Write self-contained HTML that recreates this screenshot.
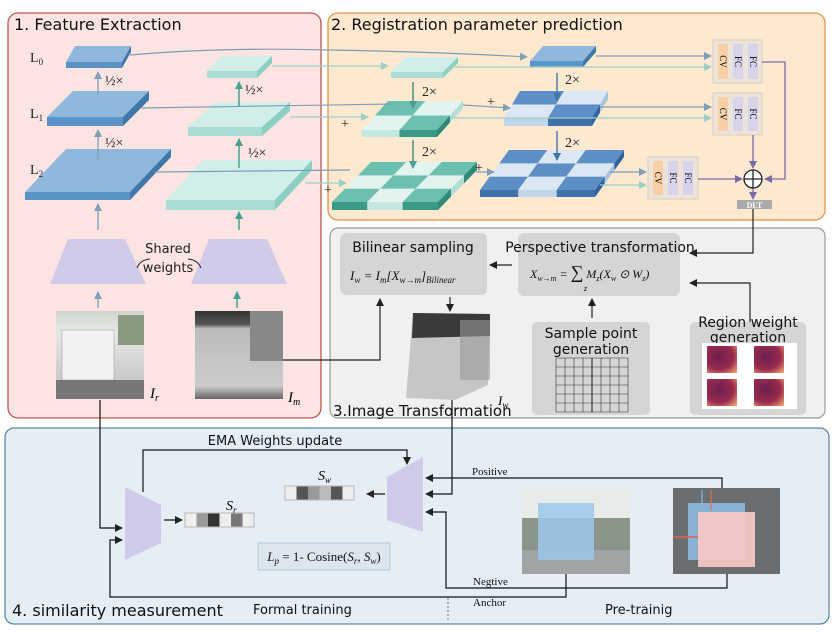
<!DOCTYPE html>
<html><head><meta charset="utf-8"><style>
html,body{margin:0;padding:0;background:#fff;}
svg{display:block;font-family:"Liberation Sans",sans-serif;}
.t{font-family:"DejaVu Sans","Liberation Sans",sans-serif;}
.s{font-family:"Liberation Serif",serif;}
</style></head><body>
<svg id="sv" width="839" height="632" viewBox="0 0 839 632" xmlns="http://www.w3.org/2000/svg">
<defs>
<marker id="ab" markerWidth="8" markerHeight="8" refX="7" refY="4" orient="auto" markerUnits="userSpaceOnUse"><path d="M0,0 L8,4 L0,8 z" fill="#222"/></marker>
<marker id="ag" markerWidth="8" markerHeight="8" refX="7" refY="4" orient="auto" markerUnits="userSpaceOnUse"><path d="M0,0 L8,4 L0,8 z" fill="#7f9fb8"/></marker>
<marker id="at" markerWidth="8" markerHeight="8" refX="7" refY="4" orient="auto" markerUnits="userSpaceOnUse"><path d="M0,0 L8,4 L0,8 z" fill="#4aa090"/></marker>
<marker id="ac" markerWidth="8" markerHeight="8" refX="7" refY="4" orient="auto" markerUnits="userSpaceOnUse"><path d="M0,0 L8,4 L0,8 z" fill="#9cd0c6"/></marker>
<marker id="ap" markerWidth="8" markerHeight="8" refX="7" refY="4" orient="auto" markerUnits="userSpaceOnUse"><path d="M0,0 L8,4 L0,8 z" fill="#7a6aa8"/></marker>
<marker id="aB" markerWidth="8" markerHeight="8" refX="7" refY="4" orient="auto" markerUnits="userSpaceOnUse"><path d="M0,0 L8,4 L0,8 z" fill="#3f78a8"/></marker>
<linearGradient id="gIr" x1="0" y1="0" x2="0" y2="1"><stop offset="0" stop-color="#cfd6cc"/><stop offset="0.25" stop-color="#e8e8e6"/><stop offset="0.8" stop-color="#c8c8c8"/><stop offset="1" stop-color="#7a7a7a"/></linearGradient>
<linearGradient id="gIm" x1="0" y1="0" x2="0" y2="1"><stop offset="0" stop-color="#333"/><stop offset="0.15" stop-color="#555"/><stop offset="0.2" stop-color="#bbb"/><stop offset="0.85" stop-color="#ccc"/><stop offset="1" stop-color="#666"/></linearGradient>
<radialGradient id="hm" cx="0.4" cy="0.4" r="0.8"><stop offset="0" stop-color="#6a1f4e"/><stop offset="0.6" stop-color="#9a2a4e"/><stop offset="1" stop-color="#f0a070"/></radialGradient>
</defs>

<rect x="8" y="13" width="313" height="405" rx="10" fill="#fce4e2" stroke="#c05550" stroke-width="1.3"/>
<rect x="328" y="13" width="497" height="207" rx="10" fill="#fde8d0" stroke="#e0944a" stroke-width="1.3"/>
<rect x="330" y="228" width="495" height="190" rx="8" fill="#f0f0f0" stroke="#999" stroke-width="1.2"/>
<rect x="5" y="428" width="824" height="196" rx="9" fill="#e5eef5" stroke="#5a8aa0" stroke-width="1.3"/>

<text x="14" y="30" font-size="16" class="t" fill="#111">1. Feature Extraction</text>
<text x="331" y="30" font-size="16" class="t" fill="#111">2. Registration parameter prediction</text>
<text x="333" y="416" font-size="15" class="t" fill="#111">3.Image Transformation</text>
<text x="12" y="616" font-size="16" class="t" fill="#111">4. similarity measurement</text>
<text x="253" y="614" font-size="13" class="t" fill="#111">Formal training</text>
<text x="605" y="614" font-size="13" class="t" fill="#111">Pre-trainig</text>
<line x1="448" y1="598" x2="448" y2="620" stroke="#777" stroke-dasharray="2,2"/>

<g id="slabs"></g>

<g class="s" font-size="14" fill="#222">
<text x="30" y="62">L<tspan font-size="9" dy="3">0</tspan></text>
<text x="30" y="118">L<tspan font-size="9" dy="3">1</tspan></text>
<text x="30" y="174">L<tspan font-size="9" dy="3">2</tspan></text>
<text x="105" y="85">½×</text><text x="105" y="147">½×</text>
<text x="245" y="94">½×</text><text x="248" y="157">½×</text>
</g>
<g stroke="#7f9fb8" stroke-width="1.3" fill="none">
<line x1="98" y1="95" x2="98" y2="72" marker-end="url(#ag)"/>
<line x1="98" y1="159" x2="98" y2="130" marker-end="url(#ag)"/>
<line x1="98" y1="230" x2="98" y2="204" marker-end="url(#ag)"/>
<line x1="98" y1="308" x2="98" y2="292" marker-end="url(#ag)"/>
</g>
<g stroke="#4aa090" stroke-width="1.5" fill="none">
<line x1="239" y1="106" x2="239" y2="82" marker-end="url(#at)"/>
<line x1="239" y1="168" x2="239" y2="139" marker-end="url(#at)"/>
<line x1="239" y1="230" x2="239" y2="212" marker-end="url(#at)"/>
<line x1="237" y1="308" x2="237" y2="292" marker-end="url(#at)"/>
</g>
<polygon points="50,284 146,284 125,239 68,239" fill="#d0cbe9"/>
<polygon points="191,284 287,284 267,239 209,239" fill="#d0cbe9"/>
<text x="168" y="253" font-size="13" text-anchor="middle" class="t" fill="#222">Shared</text>
<text x="168" y="272" font-size="13" text-anchor="middle" class="t" fill="#222">weights</text>
<path d="M137,268 Q140,260 150,259 M188,259 Q198,260 201,268" stroke="#222" fill="none"/>
<rect x="56" y="311" width="88" height="88" fill="url(#gIr)"/>
<rect x="62" y="330" width="52" height="50" fill="#f2f2f2" stroke="#999" stroke-width="0.5"/>
<rect x="56" y="380" width="88" height="19" fill="#777"/>
<rect x="118" y="315" width="26" height="30" fill="#8a9a80"/>
<rect x="195" y="311" width="88" height="88" fill="url(#gIm)"/>
<rect x="250" y="311" width="33" height="50" fill="#888"/>
<text x="150" y="398" font-size="15" class="s" font-style="italic">I<tspan font-size="10" dy="3">r</tspan></text>
<text x="288" y="402" font-size="15" class="s" font-style="italic">I<tspan font-size="10" dy="3">m</tspan></text>

<g fill="none" stroke-width="1.2">
<path d="M130,55 Q220,47 330,50 Q440,52 527,57" stroke="#7f9fb8" marker-end="url(#ag)"/>
<line x1="272" y1="66" x2="388" y2="66" stroke="#9cd0c6" marker-end="url(#ac)"/>
<line x1="140" y1="108" x2="395" y2="104" stroke="#7f9fb8"/>
<line x1="290" y1="117" x2="368" y2="117" stroke="#9cd0c6" marker-end="url(#ac)"/>
<line x1="155" y1="172" x2="350" y2="170" stroke="#7f9fb8"/>
<line x1="305" y1="183" x2="346" y2="183" stroke="#9cd0c6" marker-end="url(#ac)"/>
<line x1="463" y1="105" x2="510" y2="108" stroke="#7f9fb8" marker-end="url(#ag)"/>
<line x1="476" y1="172" x2="494" y2="172" stroke="#7f9fb8" marker-end="url(#ag)"/>
<line x1="596" y1="56" x2="711" y2="56" stroke="#7f9fb8" marker-end="url(#ag)"/>
<line x1="455" y1="67" x2="711" y2="67" stroke="#9cd0c6" marker-end="url(#ac)"/>
<line x1="600" y1="107" x2="711" y2="107" stroke="#7f9fb8" marker-end="url(#ag)"/>
<line x1="450" y1="118" x2="711" y2="118" stroke="#9cd0c6" marker-end="url(#ac)"/>
<line x1="610" y1="172" x2="646" y2="172" stroke="#7f9fb8" marker-end="url(#ag)"/>
<line x1="600" y1="185" x2="646" y2="185" stroke="#9cd0c6" marker-end="url(#ac)"/>
</g>
<g stroke="#3f8878" stroke-width="1.4">
<line x1="413" y1="82" x2="413" y2="108" marker-end="url(#at)"/>
<line x1="413" y1="140" x2="413" y2="168" marker-end="url(#at)"/>
</g>
<g stroke="#3f78a8" stroke-width="1.4">
<line x1="557" y1="73" x2="557" y2="100" marker-end="url(#aB)"/>
<line x1="557" y1="131" x2="557" y2="160" marker-end="url(#aB)"/>
</g>
<g class="s" font-size="14" fill="#222">
<text x="422" y="96">2×</text><text x="422" y="156">2×</text>
<text x="565" y="84">2×</text><text x="565" y="147">2×</text>
<text x="341" y="128">+</text><text x="487" y="106">+</text><text x="324" y="194">+</text><text x="475" y="172">+</text>
</g>
<g id="cvs"></g>
<g stroke="#7a6aa8" stroke-width="1.3" fill="none">
<path d="M762,62 H785 V179 H765" marker-end="url(#ap)"/>
<line x1="753" y1="135" x2="753" y2="168" marker-end="url(#ap)"/>
<line x1="698" y1="179" x2="742" y2="179" marker-end="url(#ap)"/>
<line x1="753" y1="188" x2="753" y2="199" marker-end="url(#ap)"/>
</g>
<circle cx="753" cy="179" r="9" fill="#fff" stroke="#222" stroke-width="1.3"/>
<path d="M744,179 H762 M753,170 V188" stroke="#222" stroke-width="1.3"/>
<rect x="737" y="200" width="35" height="9" fill="#aaa"/>
<text x="754.5" y="208" font-size="8" text-anchor="middle" class="s" fill="#fff" font-weight="bold">DLT</text>

<path d="M753,209 V253 H690" stroke="#222" fill="none" stroke-width="1.2" marker-end="url(#ab)"/>
<rect x="340" y="233" width="147" height="62" rx="6" fill="#d5d5d5"/>
<rect x="518" y="233" width="162" height="63" rx="6" fill="#d5d5d5"/>
<text x="413" y="252" font-size="14" text-anchor="middle" class="t" fill="#111">Bilinear sampling</text>
<text x="350" y="280" font-size="13" class="s" font-style="italic" fill="#111">I<tspan font-size="9" dy="3">w</tspan><tspan dy="-3"> = I</tspan><tspan font-size="9" dy="3">m</tspan><tspan dy="-3">[X</tspan><tspan font-size="9" dy="3">w→m</tspan><tspan dy="-3">]</tspan><tspan font-size="9" dy="3">Bilinear</tspan></text>
<text x="600" y="252" font-size="14" text-anchor="middle" class="t" fill="#111">Perspective transformation</text>
<text x="530" y="278" font-size="12" class="s" font-style="italic" fill="#111">X<tspan font-size="8" dy="3">w→m</tspan><tspan dy="-3"> = </tspan><tspan font-size="18" font-style="normal">∑</tspan> M<tspan font-size="8" dy="3">z</tspan><tspan dy="-3">(X</tspan><tspan font-size="8" dy="3">w</tspan><tspan dy="-3"> ⊙ W</tspan><tspan font-size="8" dy="3">z</tspan><tspan dy="-3">)</tspan></text>
<text x="584" y="291" font-size="8" class="s" font-style="italic">z</text>
<g stroke="#222" stroke-width="1.2" fill="none">
<line x1="512" y1="265" x2="490" y2="265" marker-end="url(#ab)"/>
<line x1="450" y1="297" x2="450" y2="311" marker-end="url(#ab)"/>
<path d="M283,360 H380 V299" marker-end="url(#ab)"/>
<line x1="592" y1="318" x2="592" y2="299" marker-end="url(#ab)"/>
<path d="M750,322 V283 H690" marker-end="url(#ab)"/>
</g>
<polygon points="413,313 490,314 488,385 455,400 406,398" fill="#c6c6c6"/>
<polygon points="413,313 490,314 490,336 412,338" fill="#3a3a3a"/>
<rect x="460" y="320" width="30" height="60" fill="#999" opacity="0.6"/>
<text x="498" y="405" font-size="13" class="s" font-style="italic">I<tspan font-size="9" dy="3">w</tspan></text>
<rect x="532" y="322" width="118" height="93" rx="5" fill="#d5d5d5"/>
<text x="591" y="338" font-size="14" text-anchor="middle" class="t" fill="#111">Sample point</text>
<text x="591" y="354" font-size="14" text-anchor="middle" class="t" fill="#111">generation</text>
<g id="grid" stroke="#333" stroke-width="0.6"></g>
<rect x="690" y="322" width="116" height="93" rx="5" fill="#d5d5d5"/>
<text x="748" y="327" font-size="14" text-anchor="middle" class="t" fill="#111">Region weight</text>
<text x="748" y="342" font-size="14" text-anchor="middle" class="t" fill="#111">generation</text>
<rect x="702" y="343" width="95" height="66" fill="#fff"/>
<rect x="707" y="346" width="30" height="27" fill="url(#hm)"/>
<rect x="754" y="346" width="30" height="27" fill="url(#hm)"/>
<rect x="707" y="379" width="30" height="27" fill="url(#hm)"/>
<rect x="754" y="379" width="30" height="27" fill="url(#hm)"/>

<text x="275" y="445" font-size="13" text-anchor="middle" class="t" fill="#111">EMA Weights update</text>
<polygon points="125,487 161,505 161,543 125,560" fill="#d0cbe9"/>
<polygon points="387,477 423,457 423,532 387,520" fill="#d0cbe9"/>
<g id="bars"></g>
<text x="226" y="510" font-size="14" class="s" font-style="italic">S<tspan font-size="9" dy="3">r</tspan></text>
<text x="318" y="480" font-size="14" class="s" font-style="italic">S<tspan font-size="9" dy="3">w</tspan></text>
<rect x="258" y="543" width="132" height="27" fill="#dde6ef" stroke="#b8c8d6"/>
<text x="324" y="561" font-size="13" text-anchor="middle" class="s" fill="#111"><tspan font-style="italic">L<tspan font-size="9" dy="3">p</tspan></tspan><tspan dy="-3"> = 1- Cosine(</tspan><tspan font-style="italic">S<tspan font-size="9" dy="3">r</tspan><tspan dy="-3">, S</tspan><tspan font-size="9" dy="3">w</tspan></tspan><tspan dy="-3">)</tspan></text>
<text x="472" y="475" font-size="11" class="s" fill="#111">Positive</text>
<text x="473" y="585" font-size="11" class="s" fill="#111">Negtive</text>
<text x="473" y="606" font-size="11" class="s" fill="#111">Anchor</text>
<g stroke="#111" stroke-width="1.2" fill="none">
<path d="M143,492 V450 H407 V464" marker-end="url(#ab)"/>
<path d="M100,400 V528 H122" marker-end="url(#ab)"/>
<line x1="164" y1="520" x2="182" y2="520" marker-end="url(#ab)"/>
<line x1="385" y1="494" x2="367" y2="494" marker-end="url(#ab)"/>
<path d="M452,400 V494 H426" marker-end="url(#ab)"/>
<path d="M722,503 V478 H426" marker-end="url(#ab)"/>
<path d="M727,568 V588 H446 V512 H426" marker-end="url(#ab)"/>
<path d="M566,573 V597 H110 V540 H122" marker-end="url(#ab)"/>
</g>
<rect x="522" y="488" width="108" height="86" fill="#8a9488"/>
<rect x="522" y="488" width="108" height="30" fill="#e8ece8"/>
<rect x="522" y="550" width="108" height="24" fill="#a0a4a4"/>
<rect x="538" y="503" width="56" height="57" fill="#9cc8ec" opacity="0.85"/>
<rect x="673" y="488" width="107" height="86" fill="#6a6e70"/>
<rect x="688" y="503" width="57" height="57" fill="#8ebfe6" opacity="0.85"/>
<rect x="698" y="512" width="57" height="55" fill="#f8c8c4" opacity="0.92"/>
<line x1="673" y1="537" x2="698" y2="537" stroke="#e06050" stroke-width="1.5"/>
<line x1="711" y1="490" x2="711" y2="510" stroke="#e07050" stroke-width="1.2"/>
<line x1="702" y1="490" x2="702" y2="503" stroke="#8ab8e0" stroke-width="1.2"/>
</svg>
<script>
var NS="http://www.w3.org/2000/svg";
function el(p,t,a){var e=document.createElementNS(NS,t);for(var k in a)e.setAttribute(k,a[k]);p.appendChild(e);return e;}
var S=document.getElementById("slabs");
function slab(x,y,w,dx,dy,t,n,cols){
 function P(u,v){return [x+u*w+v*dx,y-v*dy];}
 for(var j=0;j<n;j++)for(var i=0;i<n;i++){
  var c=cols[(n-1-j)*n+i];
  var a=P(i/n,j/n),b=P((i+1)/n,j/n),cc=P((i+1)/n,(j+1)/n),d=P(i/n,(j+1)/n);
  el(S,"polygon",{points:[a,b,cc,d].map(function(p){return p.join(",")}).join(" "),fill:c[0]});
 }
 for(var i=0;i<n;i++){var c=cols[(n-1)*n+i];el(S,"rect",{x:x+i*w/n,y:y,width:w/n,height:t,fill:c[1]});}
 for(var j=0;j<n;j++){var c=cols[(n-1-j)*n+n-1];var a=P(1,j/n),b=P(1,(j+1)/n);
  el(S,"polygon",{points:a[0]+","+a[1]+" "+b[0]+","+b[1]+" "+b[0]+","+(b[1]+t)+" "+a[0]+","+(a[1]+t),fill:c[2]});}
}
var B=["#8fb8dc","#5a93c6","#3f78a8"],C=["#d2eee9","#a9dcd3","#8ccfc3"];
var TD=["#6cc0b0","#3a9a88","#2f8a78"],TL=["#e2f3f0","#c5e8e2","#b2ddd6"];
var BD=["#5d8fc6","#3f72a8","#2f62a0"],BL=["#dbe7f3","#c2d6ea","#a8c4e0"];
slab(66,62,56,9,16,6,1,[B]);
slab(47,117,76,26,26,9,1,[B]);
slab(25,192,105,41,43,8,1,[B]);
slab(207,71,50,15,15,7,1,[C]);
slab(188,127,74,28,25,9,1,[C]);
slab(166,200,109,37,40,10,1,[C]);
slab(391,72,52,15,15,6,1,[C]);
slab(530,61,53,13,15,6,1,[B]);
slab(362,130,75,26,29,7,2,[TD,TL,TL,TD]);
slab(504,118,88,16,27,8,2,[BD,BL,BL,BD]);
slab(332,202,106,39,40,8,3,[TD,TL,TD,TL,TD,TL,TD,TL,TD]);
slab(480,190,115,29,40,7,3,[BD,BL,BD,BL,BD,BL,BD,BL,BD]);
var V=document.getElementById("cvs");
[[713,40,49,43],[713,93,49,42],[648,157,50,42]].forEach(function(b){
 el(V,"rect",{x:b[0],y:b[1],width:b[2],height:b[3],fill:"#ece4d8",stroke:"#d8d0c4"});
 var cols=["#f8d0a8","#d8d4ec","#d8d4ec"],lab=["CV","FC","FC"];
 for(var i=0;i<3;i++){var xx=b[0]+5+i*15;el(V,"rect",{x:xx,y:b[1]+4,width:10,height:b[3]-8,fill:cols[i]});
  var tx=el(V,"text",{x:0,y:0,"font-size":"9","font-family":"Liberation Serif,serif","text-anchor":"middle",transform:"translate("+(xx+2)+","+(b[1]+b[3]/2)+") rotate(90)"});tx.textContent=lab[i];}
});
var G=document.getElementById("grid");
el(G,"rect",{x:556,y:358,width:72,height:54,fill:"#d5d5d5",stroke:"none"});
for(var i=0;i<=8;i++){el(G,"line",{x1:556+i*9,y1:358,x2:556+i*9,y2:412,"stroke-width":(i==4?1.2:0.6)});}
for(var j=0;j<=6;j++){el(G,"line",{x1:556,y1:358+j*9,x2:628,y2:358+j*9});}
var R=document.getElementById("bars");
function bar(x,y,cs){for(var i=0;i<cs.length;i++)el(R,"rect",{x:x+i*11.5,y:y,width:11.5,height:14,fill:cs[i]});el(R,"rect",{x:x,y:y,width:cs.length*11.5,height:14,fill:"none",stroke:"#bbb"});}
bar(185,513,["#eee","#999","#333","#eee","#777","#eee"]);
bar(285,486,["#eee","#555","#999","#bbb","#555","#eee"]);
</script>
</body></html>
